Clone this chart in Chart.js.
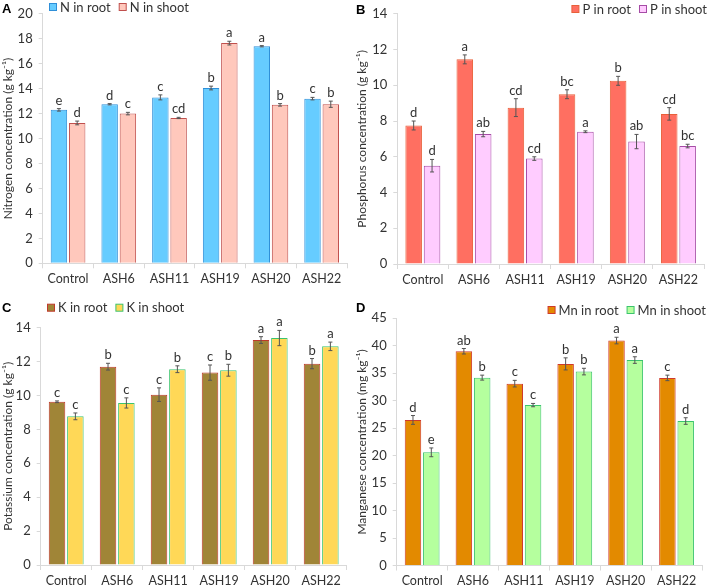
<!DOCTYPE html>
<html>
<head>
<meta charset="utf-8">
<script src="https://cdn.jsdelivr.net/npm/chart.js@4"></script>
<style>
  body { margin: 0; background: #fff; }
  #wrap { position: relative; width: 708px; height: 587px; overflow: hidden; }
  canvas { position: absolute; }
  .lab { position: absolute; font: bold 13px Arial, "Liberation Sans", sans-serif; color: #000; line-height: 13px; }
</style>
</head>
<body>
<div id="wrap">
  <canvas id="cA" width="354" height="293" style="left:0;top:0"></canvas>
  <canvas id="cB" width="354" height="293" style="left:354px;top:0"></canvas>
  <canvas id="cC" width="354" height="294" style="left:0;top:293px"></canvas>
  <canvas id="cD" width="354" height="294" style="left:354px;top:293px"></canvas>
  <div class="lab" style="left:2px;top:2px">A</div>
  <div class="lab" style="left:356px;top:3px">B</div>
  <div class="lab" style="left:2px;top:301px">C</div>
  <div class="lab" style="left:356px;top:301px">D</div>
</div>
<script>
const categories = ['Control', 'ASH6', 'ASH11', 'ASH19', 'ASH20', 'ASH22'];

// panel A - nitrogen
const nRoot = [12.3, 12.75, 13.3, 14.05, 17.4, 13.2];
const nRootErr = [0.1, 0.05, 0.2, 0.15, 0.05, 0.1];
const nRootLetters = ['e', 'd', 'c', 'b', 'a', 'c'];
const nShoot = [11.25, 12.0, 11.65, 17.65, 12.7, 12.75];
const nShootErr = [0.15, 0.1, 0.05, 0.15, 0.1, 0.25];
const nShootLetters = ['d', 'c', 'cd', 'a', 'b', 'b'];

// panel B - phosphorus
const pRoot = [7.75, 11.45, 8.75, 9.5, 10.25, 8.4];
const pRootErr = [0.25, 0.25, 0.5, 0.25, 0.25, 0.35];
const pRootLetters = ['d', 'a', 'cd', 'bc', 'b', 'cd'];
const pShoot = [5.5, 7.27, 5.9, 7.4, 6.85, 6.6];
const pShootErr = [0.35, 0.15, 0.1, 0.05, 0.4, 0.1];
const pShootLetters = ['d', 'ab', 'cd', 'a', 'ab', 'bc'];

// panel C - potassium
const kRoot = [9.63, 11.7, 10.05, 11.35, 13.27, 11.88];
const kRootErr = [0.05, 0.2, 0.4, 0.45, 0.2, 0.3];
const kRootLetters = ['c', 'b', 'c', 'c', 'a', 'b'];
const kShoot = [8.77, 9.56, 11.55, 11.49, 13.39, 12.9];
const kShootErr = [0.2, 0.3, 0.2, 0.35, 0.45, 0.25];
const kShootLetters = ['c', 'c', 'b', 'b', 'a', 'a'];

// panel D - manganese
const mnRoot = [26.5, 39.0, 33.1, 36.7, 40.95, 34.15];
const mnRootErr = [0.8, 0.5, 0.6, 1.1, 0.6, 0.5];
const mnRootLetters = ['d', 'ab', 'c', 'b', 'a', 'c'];
const mnShoot = [20.6, 34.2, 29.2, 35.3, 37.4, 26.3];
const mnShootErr = [0.8, 0.45, 0.3, 0.6, 0.6, 0.6];
const mnShootLetters = ['e', 'b', 'c', 'b', 'a', 'd'];

const FONT = 'Lato, "Open Sans", sans-serif';
const TXT = '#333';
const AXIS = '#d9d9d9';

// error bars + significance letters
const errorPlugin = {
  id: 'errorBars',
  afterDatasetsDraw(chart) {
    const ctx = chart.ctx;
    const y = chart.scales.y;
    chart.data.datasets.forEach((ds, di) => {
      const meta = chart.getDatasetMeta(di);
      meta.data.forEach((bar, i) => {
        const v = ds.data[i], e = ds.errors[i];
        const top = y.getPixelForValue(v + e);
        const bot = y.getPixelForValue(v - e);
        ctx.save();
        ctx.strokeStyle = '#555';
        ctx.lineWidth = 1;
        ctx.beginPath();
        ctx.moveTo(bar.x, top); ctx.lineTo(bar.x, bot);
        ctx.moveTo(bar.x - 2, top); ctx.lineTo(bar.x + 2, top);
        ctx.moveTo(bar.x - 2, bot); ctx.lineTo(bar.x + 2, bot);
        ctx.stroke();
        ctx.fillStyle = TXT;
        ctx.font = '13px ' + FONT;
        ctx.textAlign = 'center';
        ctx.textBaseline = 'alphabetic';
        ctx.fillText(ds.letters[i], bar.x, top - 4);
        ctx.restore();
      });
    });
  }
};

// legend drawn at a fixed place inside the panel
const legendPlugin = {
  id: 'panelLegend',
  afterDraw(chart, args, opts) {
    const ctx = chart.ctx;
    ctx.save();
    ctx.font = '13px ' + FONT;
    const items = chart.data.datasets.map(ds => ({ ds, w: ctx.measureText(ds.label).width }));
    const total = items.reduce((s, it) => s + 11 + it.w, 0) + 8 * (items.length - 1);
    let x = opts.align === 'right' ? opts.x - total : opts.x;
    items.forEach(it => {
      ctx.fillStyle = it.ds.backgroundColor;
      ctx.strokeStyle = it.ds.borderColor;
      ctx.lineWidth = 1;
      ctx.fillRect(x + 0.5, opts.y - 3.5, 7, 7);
      ctx.strokeRect(x + 0.5, opts.y - 3.5, 7, 7);
      ctx.fillStyle = TXT;
      ctx.textBaseline = 'middle';
      ctx.textAlign = 'left';
      ctx.fillText(it.ds.label, x + 11, opts.y + 0.5);
      x += 11 + it.w + 8;
    });
    ctx.restore();
  }
};

function makeDataset(label, data, errors, letters, fill, border) {
  return {
    label, data, errors, letters,
    backgroundColor: fill,
    borderColor: border,
    borderWidth: 1,
    categoryPercentage: 0.72,
    barPercentage: 0.9
  };
}

function makePanel(id, p) {
  new Chart(document.getElementById(id), {
    type: 'bar',
    data: { labels: categories, datasets: p.datasets },
    options: {
      responsive: false,
      animation: false,
      layout: { padding: { top: p.top, right: p.right, left: 0, bottom: 0 } },
      plugins: {
        legend: { display: false },
        tooltip: { enabled: false },
        panelLegend: p.legend
      },
      scales: {
        x: {
          afterFit: s => { s.height = p.xh; },
          grid: { display: true, drawOnChartArea: false, offset: true, tickLength: 5, color: AXIS },
          border: { color: AXIS },
          ticks: { color: TXT, font: { family: FONT, size: 12.5 }, padding: 3 }
        },
        y: {
          min: 0, max: p.max,
          afterFit: s => { s.width = p.yw; },
          grid: { display: true, drawOnChartArea: false, tickLength: 4, color: AXIS },
          border: { color: AXIS },
          ticks: { stepSize: p.step, color: TXT, font: { family: FONT, size: 13 }, padding: 6 },
          title: { display: true, text: p.title, color: TXT, font: { family: FONT, size: 12 }, padding: { top: 1, bottom: 0 } }
        }
      }
    },
    plugins: [errorPlugin, legendPlugin]
  });
}

makePanel('cA', {
  datasets: [
    makeDataset('N in root', nRoot, nRootErr, nRootLetters, '#66ccff', '#2f8fd8'),
    makeDataset('N in shoot', nShoot, nShootErr, nShootLetters, '#ffc8bc', '#c0504d')
  ],
  max: 20, step: 2, title: 'Nitrogen concentration (g kg\u207B\u00B9)',
  top: 7.5, right: 7, yw: 42.7, xh: 29.7,
  legend: { x: 49, y: 7, align: 'left' }
});

makePanel('cB', {
  datasets: [
    makeDataset('P in root', pRoot, pRootErr, pRootLetters, '#ff6f61', '#e8603a'),
    makeDataset('P in shoot', pShoot, pShootErr, pShootLetters, '#ffccff', '#a64ca6')
  ],
  max: 14, step: 2, title: 'Phosphorus concentration (g kg\u207B\u00B9)',
  top: 7.3, right: 4, yw: 43.3, xh: 29,
  legend: { x: 353, y: 9, align: 'right' }
});

makePanel('cC', {
  datasets: [
    makeDataset('K in root', kRoot, kRootErr, kRootLetters, '#a08537', '#c0392b'),
    makeDataset('K in shoot', kShoot, kShootErr, kShootLetters, '#ffd857', '#3cc46e')
  ],
  max: 14, step: 2, title: 'Potassium concentration (g kg\u207B\u00B9)',
  top: 34.7, right: 7.3, yw: 40.7, xh: 22,
  legend: { x: 47, y: 14.7, align: 'left' }
});

makePanel('cD', {
  datasets: [
    makeDataset('Mn in root', mnRoot, mnRootErr, mnRootLetters, '#e38a00', '#d0392b'),
    makeDataset('Mn in shoot', mnShoot, mnShootErr, mnShootLetters, '#b5ff9e', '#3cc46e')
  ],
  max: 45, step: 5, title: 'Manganese concentration (mg kg\u207B\u00B9)',
  top: 25.3, right: 6, yw: 42.7, xh: 21.5,
  legend: { x: 352, y: 17, align: 'right' }
});
</script>
</body>
</html>
